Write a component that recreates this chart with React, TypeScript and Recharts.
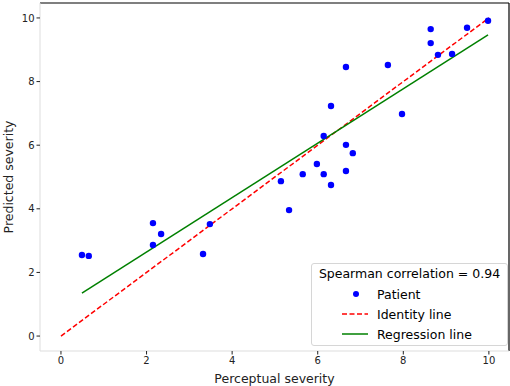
import * as React from "react";
import { ScatterChart, Scatter, XAxis, YAxis, ReferenceLine } from "recharts";

const perceptual = [0.49, 0.65, 2.15, 2.34, 2.15, 3.48, 3.32, 5.14, 5.33, 5.65, 5.98, 6.14, 6.31, 6.14, 6.31, 6.66, 6.82, 6.66, 6.66, 7.64, 7.97, 8.64, 8.64, 8.81, 9.14, 9.49, 9.98];
const predicted = [2.55, 2.52, 3.55, 3.21, 2.86, 3.52, 2.58, 4.87, 3.96, 5.09, 5.41, 5.09, 4.75, 6.29, 7.23, 6.01, 5.75, 5.19, 8.46, 8.52, 6.98, 9.65, 9.21, 8.84, 8.87, 9.69, 9.91];

const identityX = [0, 10];
const identityY = [0, 10];
const regressionX = [0.49, 9.98];
const regressionY = [1.35, 9.47];

const ticks = [0, 2, 4, 6, 8, 10];
const xDomain = [-0.49, 10.47];
const yDomain = [-0.47, 10.47];

const patients = perceptual.map((x, i) => ({ x, y: predicted[i] }));
const identity = identityX.map((x, i) => ({ x, y: identityY[i] }));
const regression = regressionX.map((x, i) => ({ x, y: regressionY[i] }));

const font = "DejaVu Sans, sans-serif";

function Dot(props: any) {
  const { cx, cy } = props;
  return <circle cx={cx} cy={cy} r={3.2} fill="#0000ff" />;
}

function LegendBox() {
  const row: React.CSSProperties = { display: "flex", alignItems: "center", height: 20 };
  return (
    <div
      style={{
        position: "absolute",
        left: 311,
        top: 263,
        width: 197,
        height: 83,
        border: "1px solid #d6d6d6",
        borderRadius: 3,
        background: "rgba(255,255,255,0.8)",
        fontFamily: font,
        fontSize: 12.5,
        color: "#000",
        boxSizing: "border-box",
      }}
    >
      <div style={{ textAlign: "center", height: 20, lineHeight: "20px" }}>Spearman correlation = 0.94</div>
      <div style={row}>
        <svg width={65} height={20}>
          <circle cx={44} cy={10} r={3} fill="#0000ff" />
        </svg>
        <span>Patient</span>
      </div>
      <div style={row}>
        <svg width={65} height={20}>
          <line x1={30} x2={56} y1={10} y2={10} stroke="#ff0000" strokeWidth={1.5} strokeDasharray="5 2.5" />
        </svg>
        <span>Identity line</span>
      </div>
      <div style={row}>
        <svg width={65} height={20}>
          <line x1={30} x2={56} y1={10} y2={10} stroke="#008000" strokeWidth={1.5} />
        </svg>
        <span>Regression line</span>
      </div>
    </div>
  );
}

function YLabel(props: any) {
  const vb = props.viewBox || { x: 0, y: 0, width: 40, height: 348 };
  const cx = 8;
  const cy = vb.y + vb.height / 2;
  return (
    <text x={cx} y={cy} transform={`rotate(-90, ${cx}, ${cy})`} textAnchor="middle" dominantBaseline="central" fontSize={12.5} fill="#222" fontFamily={font}>
      Predicted severity
    </text>
  );
}

function XLabel(props: any) {
  const vb = props.viewBox || { x: 40, y: 351, width: 469, height: 35 };
  const cx = vb.x + vb.width / 2;
  return (
    <text x={cx} y={vb.y + 27.5} textAnchor="middle" dominantBaseline="central" fontSize={12.5} fill="#222" fontFamily={font}>
      Perceptual severity
    </text>
  );
}

export default function App() {
  const tick = { fontSize: 10, fill: "#222", fontFamily: font };
  return (
    <div style={{ position: "absolute", left: 0, top: 0, width: 510, height: 386, background: "#fff" }}>
      <ScatterChart width={510} height={386} margin={{ top: 3, right: 1, bottom: 0, left: 0 }}>
        <XAxis
          type="number"
          dataKey="x"
          domain={xDomain}
          ticks={ticks}
          allowDataOverflow
          height={35}
          stroke="#dddddd"
          tick={tick}
          tickLine={{ stroke: "#222" }}
          tickSize={3.5}
          label={<XLabel />}
        />
        <YAxis
          type="number"
          dataKey="y"
          domain={yDomain}
          ticks={ticks}
          allowDataOverflow
          width={40}
          stroke="#dddddd"
          tick={tick}
          tickLine={{ stroke: "#222" }}
          tickSize={3.5}
          label={<YLabel />}
        />
        <ReferenceLine y={yDomain[1]} stroke="#000" strokeWidth={1.2} ifOverflow="extendDomain" />
        <ReferenceLine x={xDomain[1]} stroke="#000" strokeWidth={1.2} ifOverflow="extendDomain" />
        <Scatter
          data={identity}
          line={{ stroke: "#ff0000", strokeWidth: 1.5, strokeDasharray: "5 2.5" }}
          shape={() => null}
          isAnimationActive={false}
        />
        <Scatter
          data={regression}
          line={{ stroke: "#008000", strokeWidth: 1.5 }}
          shape={() => null}
          isAnimationActive={false}
        />
        <Scatter data={patients} shape={Dot} isAnimationActive={false} />
      </ScatterChart>
      <LegendBox />
    </div>
  );
}
